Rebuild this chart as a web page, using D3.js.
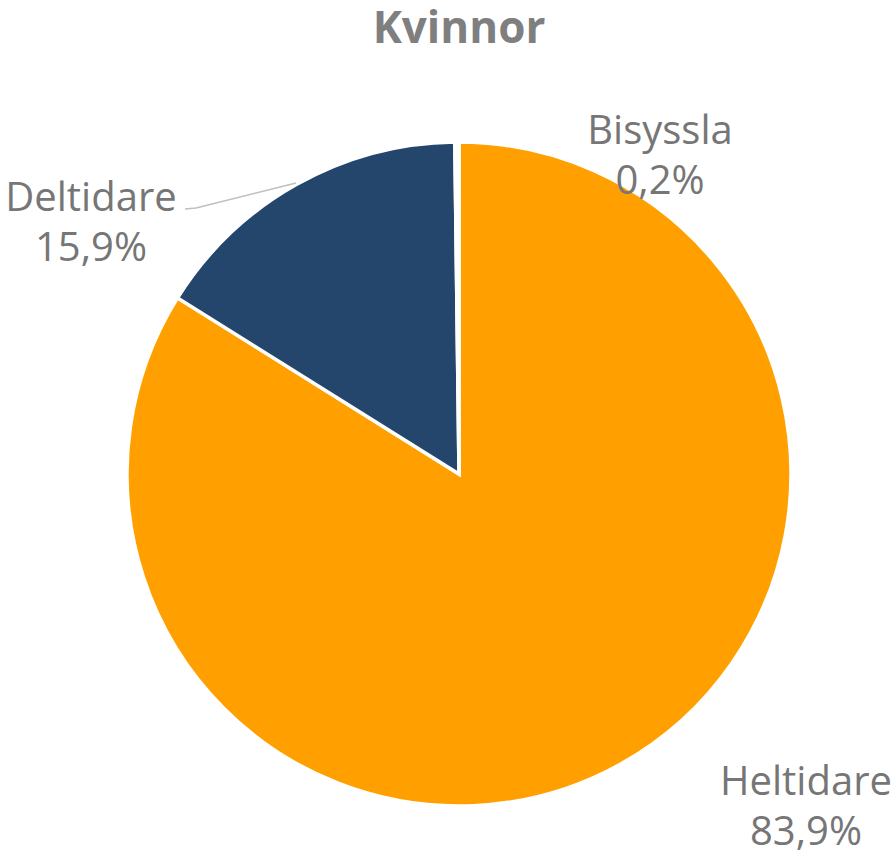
<!DOCTYPE html>
<meta charset="utf-8">
<script src="https://d3js.org/d3.v7.min.js"></script>
<style>
  body { margin: 0; background: #fff; }
  text { font-family: "Open Sans", sans-serif; }
</style>
<div id="chart"></div>
<script>

  // data
  var categories = ["Heltidare", "Deltidare", "Bisyssla"];
  var values = [83.9, 15.9, 0.2];
  var colors = ["#ffa000", "#24466c", "#f4f4f4"];
  var title = "Kvinnor";

  // label anchors (x, baseline of first line)
  var labelPos = [[806, 795], [91, 211], [660, 144]];

  var width = 896, height = 857;
  var cx = 459, cy = 474, radius = 332;

  var svg = d3.select("#chart")
    .append("svg")
      .attr("width", width)
      .attr("height", height);

  svg.append("text")
      .attr("x", cx)
      .attr("y", 43)
      .attr("text-anchor", "middle")
      .style("font-size", "44px")
      .style("font-weight", "bold")
      .style("fill", "#7f7f7f")
      .text(title);

  var pie = d3.pie().sort(null).value(function(d) { return d; });
  var arc = d3.arc().innerRadius(0).outerRadius(radius);

  var g = svg.append("g")
      .attr("transform", "translate(" + cx + "," + cy + ")");

  g.selectAll("path")
    .data(pie(values))
    .enter()
    .append("path")
      .attr("d", arc)
      .style("fill", function(d, i) { return colors[i]; })
      .style("stroke", "#fff")
      .style("stroke-width", 3.5);

  // leader line for Deltidare
  svg.append("polyline")
      .attr("points", "185,209 196,208 296,183")
      .style("fill", "none")
      .style("stroke", "#bfbfbf")
      .style("stroke-width", 1.5);

  var labels = svg.selectAll(".lbl")
    .data(categories)
    .enter()
    .append("text")
      .attr("class", "lbl")
      .attr("text-anchor", "middle")
      .style("font-size", "40px")
      .style("fill", "#767676");

  labels.append("tspan")
      .attr("x", function(d, i) { return labelPos[i][0]; })
      .attr("y", function(d, i) { return labelPos[i][1]; })
      .text(function(d) { return d; });
  labels.append("tspan")
      .attr("x", function(d, i) { return labelPos[i][0]; })
      .attr("y", function(d, i) { return labelPos[i][1] + 50; })
      .text(function(d, i) { return String(values[i].toFixed(1)).replace(".", ",") + "%"; });

</script>
